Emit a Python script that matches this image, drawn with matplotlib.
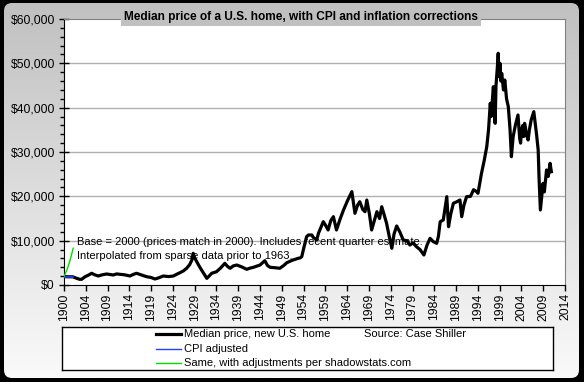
import numpy as np
import matplotlib
matplotlib.use("Agg")
import matplotlib.pyplot as plt
from matplotlib.patches import FancyBboxPatch
from matplotlib.lines import Line2D

plt.rcParams['font.family'] = ['Liberation Sans', 'DejaVu Sans']

# median price, new U.S. home
years = [1900.0, 1901.0, 1902.0, 1902.9, 1903.5, 1904.0, 1904.8, 1905.5, 1906.3, 1907.0,
         1907.8, 1908.7, 1909.7, 1910.5, 1911.2, 1912.0, 1912.7, 1913.8, 1915.0, 1915.8,
         1916.5, 1917.5, 1918.8, 1919.8, 1920.7, 1921.5, 1922.6, 1923.8, 1924.9, 1925.8,
         1926.4, 1927.2, 1927.9, 1928.6, 1929.1, 1929.4, 1929.7, 1930.2, 1930.8, 1931.3,
         1932.0, 1932.5, 1933.0, 1933.6, 1934.7, 1935.6, 1936.6, 1937.2, 1937.8, 1938.5,
         1939.3, 1940.4, 1941.6, 1942.3, 1943.1, 1944.0, 1944.6, 1945.7, 1946.3, 1946.9,
         1948.0, 1949.1, 1950.0, 1950.7, 1952.0, 1953.3, 1953.7, 1954.1, 1954.6, 1955.2,
         1955.6, 1956.4, 1956.7, 1957.5, 1957.9, 1959.0, 1959.5, 1960.1, 1960.7, 1961.3,
         1962.0, 1962.8, 1963.6, 1964.5, 1965.5, 1966.2, 1966.8, 1967.3, 1968.0, 1968.5,
         1968.9, 1969.5, 1970.0, 1970.6, 1971.2, 1971.8, 1972.3, 1972.8, 1973.4, 1974.0,
         1974.6, 1975.1, 1975.7, 1976.4, 1977.2, 1978.0, 1978.7, 1979.4, 1980.2, 1981.0,
         1981.9, 1982.6, 1983.3, 1984.0, 1984.8, 1985.2, 1985.6, 1986.3, 1987.1, 1987.5,
         1988.0, 1988.6, 1989.4, 1990.1, 1990.5, 1991.0, 1991.6, 1992.5, 1993.2, 1993.9,
         1994.2, 1995.0, 1995.6, 1996.2, 1996.6, 1997.0, 1997.2, 1997.7, 1997.9, 1998.1,
         1998.3, 1998.6, 1998.8, 1999.0, 1999.2, 1999.4, 1999.6, 2000.0, 2000.3, 2000.7,
         2001.1, 2001.5, 2001.8, 2002.2, 2002.7, 2003.3, 2003.7, 2003.9, 2004.1, 2004.4,
         2004.6, 2004.8, 2005.0, 2005.2, 2005.6, 2005.9, 2006.3, 2006.9, 2007.5, 2007.9,
         2008.1, 2008.4, 2008.7, 2009.0, 2009.3, 2009.8, 2010.2, 2010.6, 2010.9]
median = [1900, 1850, 1850, 1500, 1300, 1280, 1870, 2200, 2640, 2300,
          2030, 2300, 2480, 2350, 2260, 2500, 2410, 2300, 2030, 2400,
          2640, 2300, 1870, 1700, 1350, 1600, 2030, 1900, 2030, 2500,
          2780, 3200, 3770, 4600, 5640, 7150, 6200, 5260, 4200, 3380,
          2300, 1500, 2000, 2640, 3000, 3800, 4890, 4200, 3770, 4300,
          4510, 4100, 3540, 3800, 3990, 4300, 4510, 5480, 4400, 3990,
          3900, 3770, 4400, 5030, 5600, 6020, 6100, 6390, 8500, 10900,
          11280, 11280, 10760, 10150, 11660, 14280, 13500, 12410, 14500, 15410,
          12410, 14800, 16920, 19000, 21050, 16170, 18000, 18790, 17000, 16540,
          19170, 16000, 12410, 14500, 16540, 15000, 17660, 16000, 13920, 11000,
          8280, 11500, 13310, 12000, 10150, 10000, 9020, 9500, 8640, 8000,
          6770, 9000, 10530, 9800, 9400, 11000, 14280, 14660, 19920, 13150,
          16000, 18430, 18790, 19170, 15410, 18000, 19920, 20000, 21500, 21050,
          20680, 25200, 28000, 31210, 35000, 41000, 38000, 44730, 40000, 36470,
          45000, 49000, 52270, 47000, 50000, 46000, 47750, 44000, 46240, 42000,
          40230, 35000, 28940, 33450, 36000, 38350, 33000, 32000, 34960, 36000,
          33500, 36470, 35500, 34000, 32710, 35000, 37220, 39100, 34210, 30450,
          24000, 16920, 20000, 22940, 21000, 25940, 24500, 27450, 25560]

cpi_years = [1900, 1902]
cpi_values = [1900, 1900]
shadow_years = [1900, 1900.7, 1901.4, 1902.1]
shadow_values = [1900, 3500, 5600, 8300]

tick_years = np.linspace(1900, 2014, 24)
tick_labels = [str(int(t + 1e-6)) for t in tick_years]

W, H = 584, 382
fig = plt.figure(figsize=(W / 100, H / 100), dpi=100, facecolor='black')

# gray gradient panel with rounded corner
bg = fig.add_axes([0, 0, 1, 1], zorder=-10)
bg.set_xlim(0, W)
bg.set_ylim(0, H)
bg.axis('off')
grad = np.linspace(192, 250, 256).reshape(-1, 1) / 255.0
img = bg.imshow(np.dstack([grad, grad, grad]), extent=[4, 579, 4, 379],
                origin='upper', aspect='auto')
panel = FancyBboxPatch((4, 4), 575, 375, boxstyle='round,pad=0,rounding_size=8',
                       transform=bg.transData, facecolor='none', edgecolor='none')
bg.add_patch(panel)
img.set_clip_path(panel)

# plot area
ax = fig.add_axes([64 / W, (H - 285) / H, 501 / W, 266 / H])
ax.set_facecolor('white')
ax.set_xlim(1900, 2014)
ax.set_ylim(0, 60000)
ax.plot(years, median, color='black', lw=2.3, solid_joinstyle='round', zorder=3)
ax.plot(cpi_years, cpi_values, color='#2040ff', lw=1.2, zorder=4)
ax.plot(shadow_years, shadow_values, color='#00e000', lw=1.0, zorder=4)

ax.set_yticks(np.arange(0, 60001, 10000))
ax.set_yticks(np.arange(0, 60001, 2000), minor=True)
ax.set_yticklabels(['$0'] + ['${:,}'.format(v) for v in range(10000, 60001, 10000)],
                   fontsize=8.7)
ax.set_xticks(tick_years)
ax.set_xticklabels(tick_labels, rotation=90, fontsize=8.7)
ax.tick_params(axis='y', which='major', direction='inout', length=7, width=1, pad=3)
ax.tick_params(axis='y', which='minor', direction='out', length=3, width=1)
ax.tick_params(axis='x', which='major', direction='out', length=4, width=1, pad=2)
for y in range(10000, 60000, 10000):
    ax.axhline(y, color='#b0b0b0', lw=1, zorder=1)
for side in ('top', 'right'):
    ax.spines[side].set_color('#808080')
for side in ('left', 'bottom'):
    ax.spines[side].set_color('black')

ax.text(1902.96, 9700, 'Base = 2000 (prices match in 2000). Includes recent quarter estimate.',
        fontsize=8, va='center', ha='left', zorder=2)
ax.text(1902.96, 6540, 'Interpolated from sparse data prior to 1963.',
        fontsize=8, va='center', ha='left', zorder=2)

fig.text(301 / W, 1 - 17 / H, 'Median price of a U.S. home, with CPI and inflation corrections',
         fontsize=8.6, fontweight='bold', ha='center', va='center',
         bbox=dict(facecolor='#c0c0c0', edgecolor='none', pad=2.5))

# legend box
lg = fig.add_axes([62 / W, (H - 370) / H, 491 / W, 43 / H])
lg.set_xlim(62, 553)
lg.set_ylim(370, 327)
lg.set_xticks([])
lg.set_yticks([])
lg.set_facecolor('white')
for s in lg.spines.values():
    s.set_color('black')
    s.set_linewidth(1)
entries = [('Median price, new U.S. home', 'black', 2.3, 334),
           ('CPI adjusted', '#2040ff', 1.0, 349),
           ('Same, with adjustments per shadowstats.com', '#00e000', 1.0, 363)]
for label, color, lw, ypos in entries:
    lg.add_line(Line2D([156, 181], [ypos, ypos], color=color, lw=lw))
    lg.text(184, ypos, label, fontsize=8, va='center', ha='left')
lg.text(364, 334, 'Source: Case Shiller', fontsize=8, va='center', ha='left')

fig.savefig('out.png', dpi=100, facecolor='black')
